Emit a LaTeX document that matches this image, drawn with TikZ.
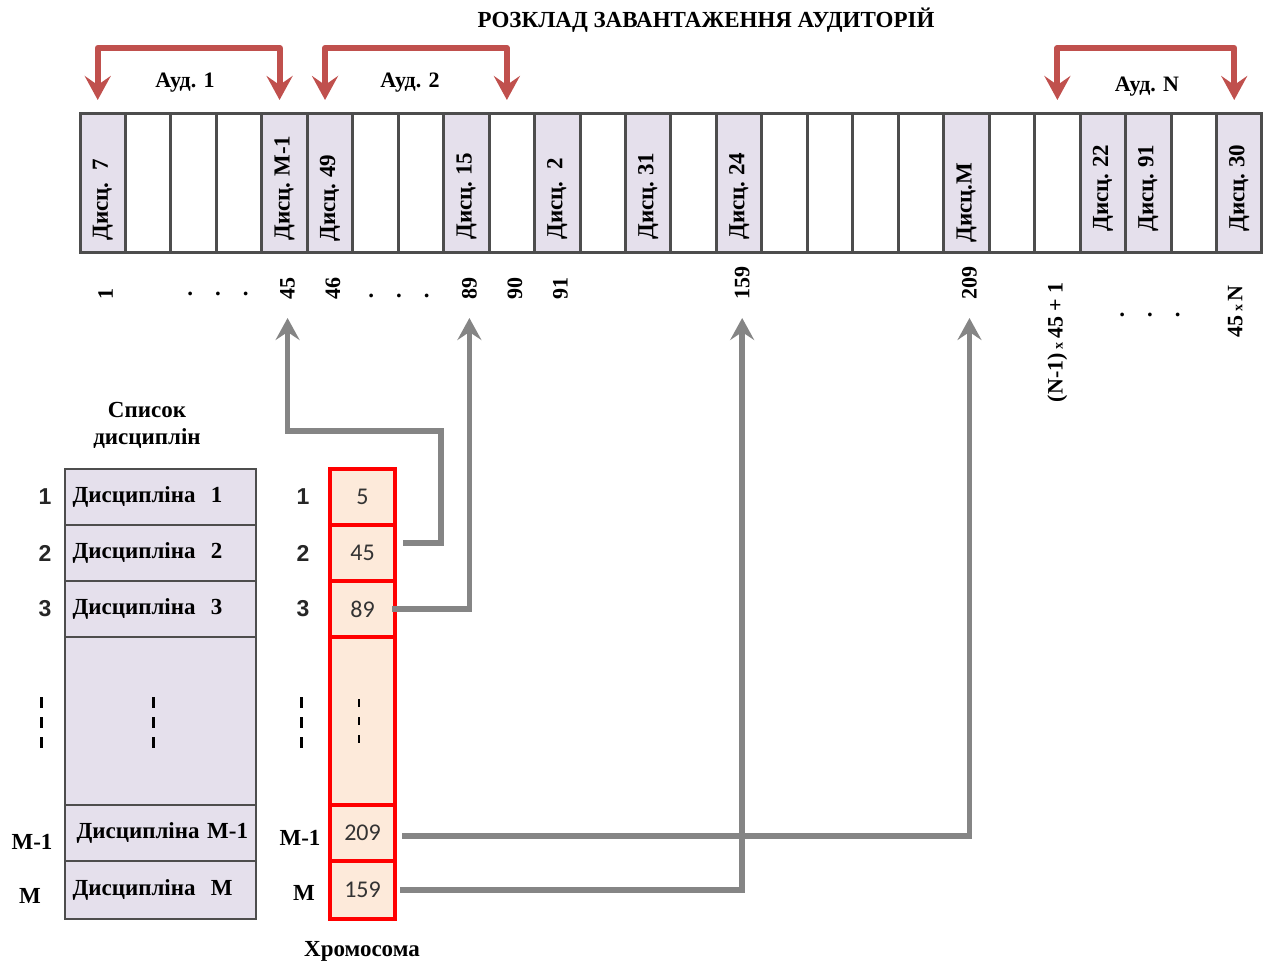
\documentclass[tikz,border=0pt]{standalone}
\usepackage{fontspec}
\setmainfont{Liberation Serif}
\newfontfamily\arialfont{Liberation Sans}
\newfontfamily\calibrifont{Carlito}
\usepackage{xcolor}
\definecolor{slotGray}{HTML}{4D4D4D}
\definecolor{lavender}{HTML}{E5E0EC}
\definecolor{peach}{HTML}{FDEADA}
\definecolor{audRed}{HTML}{C0504D}
\definecolor{linkGray}{HTML}{858585}
\definecolor{numText}{HTML}{333333}
\usepackage{tikz}
\usetikzlibrary{
    arrows.meta,
    positioning,
    calc
}
\tikzset{
    % Base style for all bold serif texts
    bold base/.style={
        font=\fontsize{11.5}{13.5}\selectfont\bfseries,
        text=black,
    },
    % Slots of the schedule row
    slot/.style={
        draw=slotGray,
        line width=1.5pt,
        minimum width=22.73pt,
        minimum height=69.5pt,
        inner sep=0pt,
        outer sep=0pt,
    },
    slot used/.style={
        slot,
        fill=lavender,
    },
    slot text/.style={
        bold base,
        rotate=90,
        anchor=west,
        inner sep=0pt,
    },
    slot number/.style={
        bold base,
        font=\fontsize{11}{13}\selectfont\bfseries,
        rotate=90,
        anchor=west,
        inner sep=0pt,
    },
    % Discipline list rows
    discbox/.style={
        bold base,
        draw=slotGray,
        line width=1pt,
        fill=lavender,
        text width=88pt,
        align=left,
        inner xsep=3.75pt,
        inner ysep=0pt,
        minimum height=28pt,
        outer sep=0pt,
    },
    % Chromosome genes
    gene/.style={
        draw=red,
        line width=1.6pt,
        fill=peach,
        minimum width=32.5pt,
        minimum height=28pt,
        inner sep=0pt,
        outer sep=0pt,
        font=\calibrifont\fontsize{12}{14}\selectfont,
        text=numText,
    },
    % Row numbers
    rowno/.style={
        font=\arialfont\fontsize{11.5}{13}\selectfont\bfseries,
        text=black!85,
        inner sep=0pt,
    },
    rowname/.style={
        bold base,
        inner sep=0pt,
    },
    % Vertical dots
    vdots/.style={
        line width=1.5pt,
        dash pattern=on 5.5pt off 4.5pt,
    },
    % Classroom brackets
    aud arrow/.style={
        {Stealth[length=12pt, width=13pt, inset=4.5pt]}-{Stealth[length=12pt, width=13pt, inset=4.5pt]},
        draw=audRed,
        line width=3pt,
        line join=round,
    },
    % Links from genes to slots
    link arrow/.style={
        -{Stealth[length=11pt, width=12pt, inset=4pt]},
        draw=linkGray,
        line width=2.75pt,
        shorten >=9pt,
    },
}

\begin{document}
\begin{tikzpicture}[x=0.5pt, y=-0.5pt]
    \useasboundingbox (0,0) rectangle (1268,964);

    \node[bold base] (title) at (706,20) {РОЗКЛАД ЗАВАНТАЖЕННЯ АУДИТОРІЙ};

    % schedule row
    \foreach \i in {1,2,3,6,7,9,11,13,15,16,17,18,20,21,24}
        \node[slot] (c\i) at ({80+45.46*(\i+0.5)},182.5) {};
    \foreach \i/\t/\s in {0/Дисц.~~7/5.5, 4/Дисц.~М-1/5.5, 5/Дисц.~49/5, 8/Дисц.~15/6,
                          10/Дисц.~~2/6, 12/Дисц.~31/6, 14/Дисц.~24/6, 19/Дисц.М/4.5,
                          22/Дисц.~22/10, 23/Дисц.~91/10, 25/Дисц.~30/10}{
        \node[slot used] (c\i) at ({80+45.46*(\i+0.5)},182.5) {};
        \node[slot text] (t\i) at ([yshift=\s pt]c\i.south) {\t};
    }

    % classroom brackets
    \draw[aud arrow] ([xshift=-2.5pt,yshift=6.5pt]c0.north) -- ++(0,-52) -| ([xshift=-2.5pt,yshift=6.5pt]c4.north);
    \draw[aud arrow] ([xshift=-2.5pt,yshift=6.5pt]c5.north) -- ++(0,-52) -| ([xshift=-2.5pt,yshift=6.5pt]c9.north);
    \draw[aud arrow] ([yshift=6.5pt]c21.north) -- ++(0,-52) -| ([xshift=-2.5pt,yshift=6.5pt]c25.north);
    \node[bold base, font=\fontsize{11}{13}\selectfont\bfseries] (aud1) at (185,83) {Ауд. 1};
    \node[bold base, font=\fontsize{11}{13}\selectfont\bfseries] (aud2) at (410,83) {Ауд. 2};
    \node[bold base, font=\fontsize{11}{13}\selectfont\bfseries] (audN) at (1147,87) {Ауд. N};

    % slot numbers
    \foreach \i/\t in {0/1, 4/45, 5/46, 8/89, 9/90, 10/91, 14/159, 19/209}
        \node[slot number] (n\t) at ([xshift=1.5pt,yshift=-24pt]c\i.south) {\t};
    \node[slot number, anchor=east] (nNa) at ([yshift=-15pt]c21.south) {(N-1)\,{\fontsize{7}{8}\selectfont x}\,45 + 1};
    \node[slot number, anchor=east] (nNb) at ([xshift=-2pt,yshift=-16.5pt]c25.south) {45\,{\fontsize{7}{8}\selectfont x}\,N};
    \node[bold base] (dotsa) at (218,294) {.\hspace{11pt}.\hspace{11pt}.};
    \node[bold base] (dotsb) at (399,296) {.\hspace{11pt}.\hspace{11pt}.};
    \node[bold base] (dotsc) at (1150,315) {.\hspace{11pt}.\hspace{11pt}.};

    % discipline list
    \node[bold base, align=center] (listtitle) at (147,425) {Список\\дисциплін};
    \node[discbox] (d1) at (160.5,497) {Дисципліна~~1};
    \node[discbox] (d2) [below=0pt of d1] {Дисципліна~~2};
    \node[discbox] (d3) [below=0pt of d2] {Дисципліна~~3};
    \node[discbox, minimum height=84pt] (d4) [below=0pt of d3] {};
    \node[discbox] (d5) [below=0pt of d4] {\hspace{2pt}Дисципліна М-1};
    \node[discbox, minimum height=29pt] (d6) [below=0pt of d5] {Дисципліна~~М};

    \node[rowno] (r1) at ([xshift=-10pt]d1.west) {1};
    \node[rowno] (r2) at ([xshift=-10pt]d2.west) {2};
    \node[rowno] (r3) at ([xshift=-10pt]d3.west) {3};
    \node[rowname] (rM1) at ([xshift=-16.5pt,yshift=-4.5pt]d5.west) {М-1};
    \node[rowname] (rM) at ([xshift=-17.5pt,yshift=-3pt]d6.west) {М};

    % chromosome
    \node[gene] (g1) at (362.5,497) {5};
    \node[gene] (g2) [below=0pt of g1] {45};
    \node[gene] (g3) [below=0pt of g2] {89};
    \node[gene, minimum height=84pt] (g4) [below=0pt of g3] {};
    \node[gene] (g5) [below=0pt of g4] {209};
    \node[gene, minimum height=29pt] (g6) [below=0pt of g5] {159};
    \node[bold base] (chromo) at (362,951) {Хромосома};

    \node[rowno] (q1) at ([xshift=-13.5pt]g1.west) {1};
    \node[rowno] (q2) at ([xshift=-13.5pt]g2.west) {2};
    \node[rowno] (q3) at ([xshift=-13.5pt]g3.west) {3};
    \node[rowname] (qM1) at ([xshift=-15pt,yshift=-2.5pt]g5.west) {М-1};
    \node[rowname] (qM) at ([xshift=-13pt,yshift=-1.5pt]g6.west) {М};

    \draw[vdots] ([xshift=-12pt,yshift=12pt]d4.west) -- ++(0,51);
    \draw[vdots] ([xshift=-3.75pt,yshift=12pt]d4.center) -- ++(0,51);
    \draw[vdots] ([xshift=-14.5pt,yshift=12pt]g4.west) -- ++(0,51);
    \draw[line width=1pt, dash pattern=on 4pt off 5pt] ([xshift=-1.75pt,yshift=11pt]g4.center) -- ++(0,44);

    % links gene -> slot
    \coordinate (bend) at (441,431);
    \draw[link arrow] ([xshift=4pt,yshift=5pt]g2.east) -| (bend) -| (n45.west);
    \draw[link arrow] ([xshift=-1.5pt]g3.east) -| (n89.west);
    \draw[link arrow] ([xshift=2.5pt]g6.east) -| (n159.west);
    \draw[link arrow] ([xshift=3.5pt,yshift=-1.5pt]g5.east) -| (n209.west);
\end{tikzpicture}
\end{document}
